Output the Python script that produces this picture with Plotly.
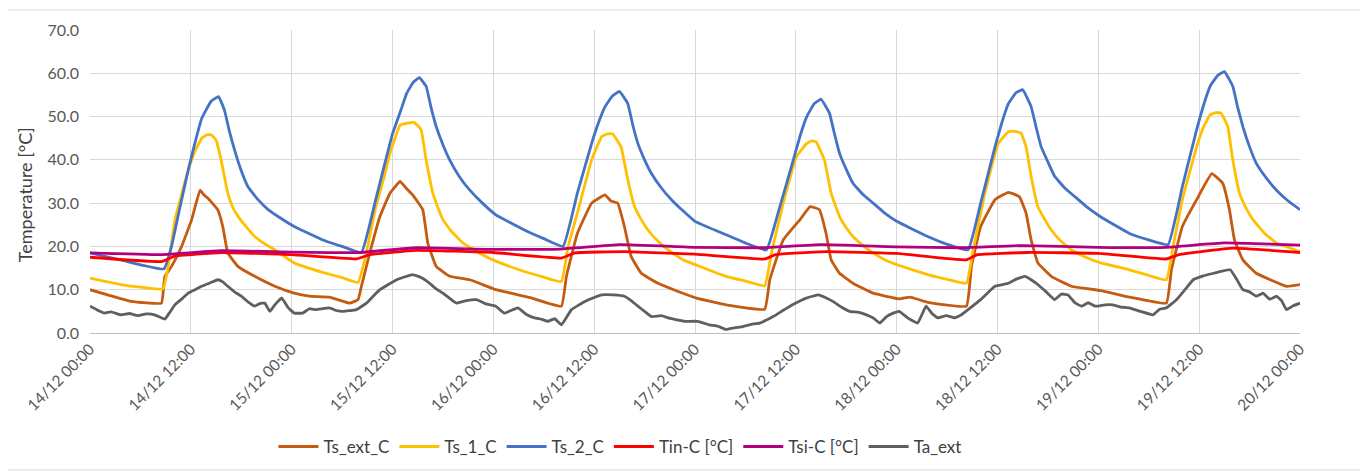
import pandas as pd
import plotly.graph_objects as go

# ---------------- data (hours since 14/12 00:00, temperature °C) ----------------
ts_ext_h = [0, 2.1, 4.9, 8.5, 8.9, 9.7, 10.9, 12.1, 13.1, 13.6, 14, 15.2, 15.8, 16.4, 17.6, 19.6, 22, 24.3,
            26.1, 28.5, 30.9, 31.9, 32.3, 33.3, 34.5, 35.7, 36.9, 37.6, 38.4, 39.6, 40.2, 41.2, 42.8, 45.2, 48.3,
            50.1, 52.5, 56.1, 56.7, 58, 59.7, 61.3, 62, 62.8, 63.6, 64.4, 65.6, 67.6, 70, 72.3,
            75.7, 80.3, 80.9, 82.5, 84.5, 85.7, 86.8, 87.6, 88.2, 89.2, 90.8, 93.2, 96.3,
            97.6, 99.7, 104.3, 104.9, 106, 107.7, 109.3, 110.6, 111.4, 112, 112.8, 114.4, 116.8, 120.3,
            123.7, 128.1, 128.7, 130, 131.7, 133.5, 134.8, 135.6, 136.2, 137.2, 138.8, 142.4, 144]
ts_ext_v = [10, 8.8, 7.3, 6.9, 13, 15.4, 20, 26.2, 33, 31.8, 31.2, 28.5, 24.6, 18.5, 15.4, 13.1, 10.8, 9.2,
            8.5, 8.3, 6.9, 7.7, 10.8, 18.5, 26.9, 32.3, 35, 33.5, 31.9, 28.5, 20.8, 15.4, 13.1, 12.3, 10,
            9.2, 8.1, 6.2, 13.1, 23, 30, 31.9, 30.5, 30, 24.6, 17.7, 13.8, 11.5, 9.6, 8,
            6.5, 5.5, 12.3, 21.5, 26.2, 29.2, 28.5, 23, 16.9, 13.8, 11.5, 9.2, 7.9,
            8.3, 7.1, 6.2, 15.4, 24.6, 30.8, 32.5, 31.5, 27.7, 21.5, 16.2, 13.1, 10.8, 9.8,
            8.3, 6.9, 14.6, 24.6, 30.8, 36.8, 34.6, 28.5, 21.5, 16.9, 13.8, 10.8, 11.2]

ts1_h = [0, 3.7, 6, 8.7, 9.3, 10.1, 10.9, 11.7, 12.5, 13.3, 13.9, 14.4, 15, 15.6, 16.4, 17, 17.6, 18.6, 19.6, 20.8, 22, 24.3,
         27.7, 30, 31.9, 32.7, 34, 35, 35.7, 36.9, 37.8, 38.6, 39.4, 40, 40.8, 41.4, 42, 43, 44.4, 46.3, 48.3,
         51.7, 54, 56.1, 56.9, 58, 59.7, 60.9, 61.6, 62.2, 63.2, 64, 64.8, 65.6, 66.4, 67.6, 68.8, 70.5, 72.3,
         75.7, 78, 80.3, 81.1, 82.5, 84.1, 85.3, 85.9, 86.4, 87.4, 88.2, 89.2, 90, 90.8, 92, 93.2, 94.7, 96.3,
         99.7, 102, 104.3, 105.1, 106.5, 107.3, 108.1, 109.3, 110, 110.8, 111.4, 112, 112.8, 113.6, 114.4, 115.5, 116.8, 118.5, 120.3,
         123.7, 126, 128.1, 128.9, 130, 131.7, 132.5, 133.3, 134, 134.6, 135.4, 136, 136.8, 137.6, 138.4, 139.8, 141.2, 142.6, 144]
ts1_v = [12.7, 11.2, 10.6, 10.2, 15.4, 26, 32, 37.7, 42, 45, 45.8, 45.8, 44.6, 40, 32.3, 29, 27, 24.5, 22.3, 20.6, 19.2, 16.2,
         14, 12.8, 11.7, 16.9, 29, 36, 41.5, 48, 48.5, 48.6, 47, 40, 32.3, 29, 26.2, 23.5, 20.8, 18.5, 16.6,
         14.2, 12.9, 11.9, 20, 27.7, 40, 45.4, 46, 46, 43, 35.4, 29.2, 26.2, 23.8, 21.2, 19.2, 17, 15.6,
         13.1, 12, 10.9, 18.5, 30, 40.8, 43.8, 44.4, 44.2, 40, 32.3, 26.9, 24.3, 22.3, 20.2, 18.5, 16.8, 15.6,
         13.5, 12.4, 11.5, 19.2, 32.3, 38.5, 43.8, 46.5, 46.6, 46.2, 43, 36.2, 29.2, 26.3, 23.8, 21.3, 19.2, 17.5, 16.2,
         14.6, 13.3, 12.3, 20, 30.8, 43, 47.5, 50.4, 50.9, 50.8, 47.7, 40, 32.3, 28.8, 26.2, 23, 20.8, 19.8, 18.8]

ts2_h = [0, 4, 8.8, 9.7, 10.7, 11.7, 12.5, 13.3, 14.4, 15.3, 16, 16.6, 17.2, 18, 18.8, 20, 21.2, 22.7, 24.3,
         27.7, 30, 32.3, 34, 35, 36, 37, 37.7, 38.5, 39.2, 40, 40.6, 41.2, 42, 42.8, 44, 45.2, 46.7, 48.3,
         51.7, 54, 56.3, 58, 59.7, 60.5, 61.3, 62.2, 63, 64, 64.6, 65.2, 66, 66.8, 68, 69.2, 70.7, 72,
         75.7, 78, 80.5, 82, 83.7, 84.5, 85.3, 86.2, 87, 88, 88.6, 89.2, 90, 90.8, 92, 93.2, 94.7, 96,
         99.7, 102, 104.5, 106, 107.7, 108.5, 109.3, 110.2, 111, 112, 112.6, 113.2, 114, 114.8, 116, 117.2, 118.7, 120.3,
         123.7, 126, 128.3, 130, 131.7, 132.5, 133.3, 134.2, 135, 136, 136.6, 137.2, 138, 138.8, 140, 141.2, 142.6, 144]
ts2_v = [18.5, 16.7, 14.8, 20, 29, 37.7, 44, 49.6, 53.5, 54.6, 51.5, 46.5, 42.3, 37.5, 33.8, 30.8, 28.5, 26.5, 24.6,
         21.5, 20, 18.6, 30.8, 38.5, 46, 51.5, 55.4, 58, 59, 57, 52, 47.7, 43.5, 40, 36, 33, 30, 27.3,
         23.8, 21.8, 20, 32.3, 43.8, 48.5, 52.3, 54.8, 55.8, 53, 48, 43.8, 40, 36.9, 33.5, 30.8, 28, 25.8,
         22.7, 20.8, 19.2, 28.5, 40, 45.5, 50, 53, 54, 50.8, 46, 41.5, 37.8, 34.6, 32, 30, 27.5, 25.8,
         22.3, 20.5, 19.2, 30, 43, 48.5, 53, 55.5, 56.2, 52.3, 47.5, 43, 39.5, 36.2, 33.5, 31.5, 29, 26.8,
         23, 21.5, 20.4, 33.8, 47, 52.5, 57, 59.5, 60.4, 57, 52, 47.7, 43, 39.2, 35.8, 33, 30.5, 28.5]

tin_h = [0, 8.5, 10, 15.6, 24, 31.7, 33.3, 38.8, 48, 56.1, 57.7, 63.6, 72, 80.3, 81.6, 87.6, 96,
         104.3, 105.6, 111.6, 120, 128.1, 129.6, 136, 144]
tin_v = [17.5, 16.5, 17.7, 18.6, 18.1, 17.1, 18.1, 19.1, 18.6, 17.3, 18.5, 18.8, 18.2, 17.1, 18.1, 18.8, 18.4,
         16.9, 18.1, 18.6, 18.4, 17.1, 18.1, 19.6, 18.6]

tsi_h = [0, 8.5, 15.6, 24, 32, 38.8, 48, 56, 63, 72, 80, 87, 96, 104, 111, 120, 128, 135, 144]
tsi_v = [18.5, 18.1, 19, 18.7, 18.6, 19.7, 19.3, 19.4, 20.4, 19.8, 19.7, 20.4, 19.9, 19.7, 20.2, 19.8, 19.8, 20.8, 20.3]

ta_h = [0, 1, 1.7, 2.5, 3.7, 4.7, 5.7, 6.7, 7.7, 8.9, 9.5, 10.1, 11, 11.7, 12.5, 13.3, 14.2, 15.2, 15.8, 16.4,
        17.2, 18, 18.8, 19.6, 20.2, 20.8, 21.4, 22, 22.8, 23.6, 24.3,
        25.3, 26.1, 26.9, 28.5, 29.3, 30.1, 31.7, 32.9, 33.7, 34.5, 35.5, 36.5, 37.5, 38.4, 39.4, 40.4, 41.2,
        42, 42.8, 43.6, 44.8, 46, 47, 48.3,
        49.3, 50.9, 52, 52.9, 53.7, 54.5, 55.3, 56.1, 57.3, 58.9, 60, 60.9, 62.3, 63.6, 64.4, 65.2, 66, 66.8,
        68, 68.8, 70, 70.8, 72.3,
        73.7, 74.7, 75.7, 76.7, 77.7, 78.7, 79.7, 81.3, 82.3, 83.3, 84.3, 85.3, 86.7, 87.5, 88.4, 89.4, 90.4,
        91.4, 92.4, 93.2, 94, 94.8, 95.6, 96.3,
        97.3, 98.5, 99.5, 100.2, 100.9, 101.9, 102.9, 103.7, 104.5, 106, 107.7, 109.3, 110.3, 111.3, 112, 112.8,
        113.8, 114.8, 115.6, 116.4, 117.2, 118, 118.8, 119.6,
        120.8, 121.7, 122.7, 123.7, 125, 126.5, 127.3, 128.1, 129.3, 130.3, 131.3, 132.5, 133.7, 134.7, 135.7,
        136.5, 137.2, 138, 138.8, 139.6, 140.4, 141.2, 141.8, 142.4, 143.2, 144]
ta_v = [6.2, 5.2, 4.6, 4.9, 4.2, 4.5, 4.0, 4.4, 4.2, 3.2, 4.8, 6.5, 8, 9.2, 10, 10.8, 11.5, 12.3, 11.8, 10.8,
        9.5, 8.5, 7.2, 6.2, 6.8, 6.9, 5, 6.5, 8.1, 5.8, 4.6,
        4.6, 5.6, 5.4, 5.8, 5.2, 5, 5.4, 6.9, 8.5, 10, 11.2, 12.3, 13, 13.5, 12.8, 11.5, 10.2,
        9.2, 8, 6.9, 7.5, 7.7, 6.8, 6.2,
        4.6, 5.8, 4.2, 3.5, 3.2, 2.7, 3.3, 1.9, 5.4, 7.3, 8.2, 8.8, 8.8, 8.5, 7.5, 6.2, 5, 3.8,
        4, 3.5, 3, 2.7, 2.7,
        1.9, 1.6, 0.8, 1.2, 1.5, 2, 2.3, 3.8, 5, 6.2, 7.2, 8.1, 8.8, 8.2, 7.3, 6, 5,
        4.8, 4.2, 3.5, 2.3, 3.8, 4.6, 5,
        3.5, 2.3, 6.2, 4.5, 3.5, 4, 3.5, 4.2, 5.4, 7.7, 10.8, 11.5, 12.5, 13.1, 12.3, 11.2,
        9.5, 7.7, 9, 8.8, 7, 6.2, 7, 6.2,
        6.5, 6.5, 6, 5.8, 5, 4.2, 5.5, 5.8, 7.7, 10, 12.3, 13.2, 13.8, 14.3, 14.6,
        12.3, 10, 9.5, 8.5, 9.2, 7.8, 8.5, 7.5, 5.4, 6.3, 6.9]

series_names = ["Ts_ext_C", "Ts_1_C", "Ts_2_C", "Tin-C [°C]", "Tsi-C [°C]", "Ta_ext"]
series_colors = ["#C55A11", "#FFC000", "#4472C4", "#FF0000", "#B4007E", "#5F5F5F"]

y_ticks = [0, 10, 20, 30, 40, 50, 60, 70]
y_title = "Temperature [°C]"
start = pd.Timestamp("2021-12-14 00:00")
end = pd.Timestamp("2021-12-20 00:00")

def to_time(hours):
    return start + pd.to_timedelta(hours, unit="h")

series = [(ts_ext_h, ts_ext_v), (ts1_h, ts1_v), (ts2_h, ts2_v),
          (tin_h, tin_v), (tsi_h, tsi_v), (ta_h, ta_v)]

fig = go.Figure()
for (h, v), name, col in zip(series, series_names, series_colors):
    fig.add_trace(go.Scatter(x=to_time(h), y=v, mode="lines", name=name,
                             line=dict(color=col, width=2.8, shape="spline", smoothing=0.3)))

font_family = "Lato, 'Open Sans', sans-serif"
fig.update_layout(
    width=1368, height=474,
    margin=dict(l=82, r=76, t=22, b=149),
    paper_bgcolor="white", plot_bgcolor="white",
    font=dict(family=font_family, size=15, color="#595959"),
    showlegend=True,
    legend=dict(orientation="h", x=0.438, xanchor="center", y=-0.376, yanchor="middle",
                font=dict(size=17, color="#404040"), itemwidth=40, traceorder="normal"),
    shapes=[dict(type="rect", xref="paper", yref="paper",
                 x0=-0.0686, x1=1.0512, y0=-0.452, y1=1.066,
                 line=dict(color="#D9D9D9", width=1), fillcolor="rgba(0,0,0,0)", layer="below")],
    annotations=[dict(text=y_title, xref="paper", yref="paper", x=-0.0537, y=0.455,
                      xanchor="center", yanchor="middle", textangle=-90, showarrow=False,
                      font=dict(size=18, color="#404040"))],
)
fig.update_xaxes(
    type="date", range=[start, end],
    tickmode="linear", tick0=start, dtick=12 * 3600 * 1000,
    tickformat="%d/%m %H:%M", tickangle=-45,
    showgrid=True, gridcolor="#D9D9D9", gridwidth=1,
    showline=True, linecolor="#BFBFBF", linewidth=1, mirror=False,
    ticks="", zeroline=False, tickfont=dict(size=15.5, color="#595959"),
)
fig.update_yaxes(
    range=[0, 70], tickvals=y_ticks, tickformat=".1f",
    showgrid=True, gridcolor="#D9D9D9", gridwidth=1,
    zeroline=False, showline=False, ticks="", ticklabelstandoff=10,
    tickfont=dict(size=16, color="#595959"),
)

fig.write_html("out.html")
